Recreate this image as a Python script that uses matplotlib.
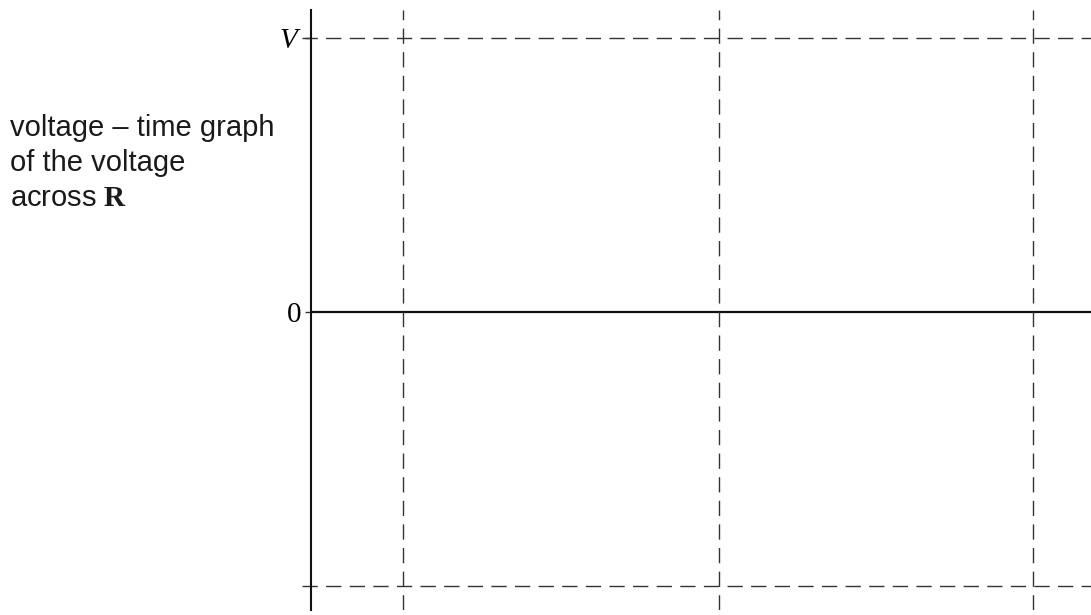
import matplotlib.pyplot as plt

# values (voltage in units of V, time in half-periods)
voltage_levels = [-1.0, 1.0]
tick_values = [0.0, 1.0]
tick_labels = ["0", r"$\mathit{V}$"]
dashed_times = [0.292, 1.295, 2.292]

plt.rcParams["mathtext.fontset"] = "custom"
plt.rcParams["mathtext.rm"] = "Liberation Sans"
plt.rcParams["mathtext.bf"] = "Liberation Serif:bold"
plt.rcParams["mathtext.it"] = "Liberation Serif:italic"

fig = plt.figure(figsize=(10.91, 6.15), dpi=100)
ax = fig.add_axes([311 / 1091, 5 / 615, 780 / 1091, 600 / 615])
ax.set_xlim(0, 2.476)
ax.set_ylim(-1.088, 1.102)

for s in ["top", "right", "bottom"]:
    ax.spines[s].set_visible(False)
ax.spines["left"].set_linewidth(1.5)
ax.spines["left"].set_color("#111111")

# time axis
ax.axhline(0, color="#111111", lw=1.6)

# dashed guides
for v in voltage_levels:
    ax.axhline(v, xmin=-0.011, xmax=1, color="#333333", lw=1.0,
               dashes=(11, 6), clip_on=False)
for t in dashed_times:
    ax.axvline(t, color="#333333", lw=1.0, dashes=(11, 6))

ax.set_xticks([])
ax.set_yticks(tick_values)
ax.set_yticklabels(tick_labels, fontsize=21, family="Liberation Serif")
ax.tick_params(axis="y", length=4, width=1, pad=3, color="#333333")

fig.text(10 / 1091, 1 - 163 / 615,
         "voltage – time graph\nof the voltage\nacross $\\mathbf{R}$",
         fontsize=21, family="Liberation Sans", ha="left", va="center",
         linespacing=1.33, color="#1a1a1a")

fig.savefig("out.png", dpi=100, facecolor="white")
